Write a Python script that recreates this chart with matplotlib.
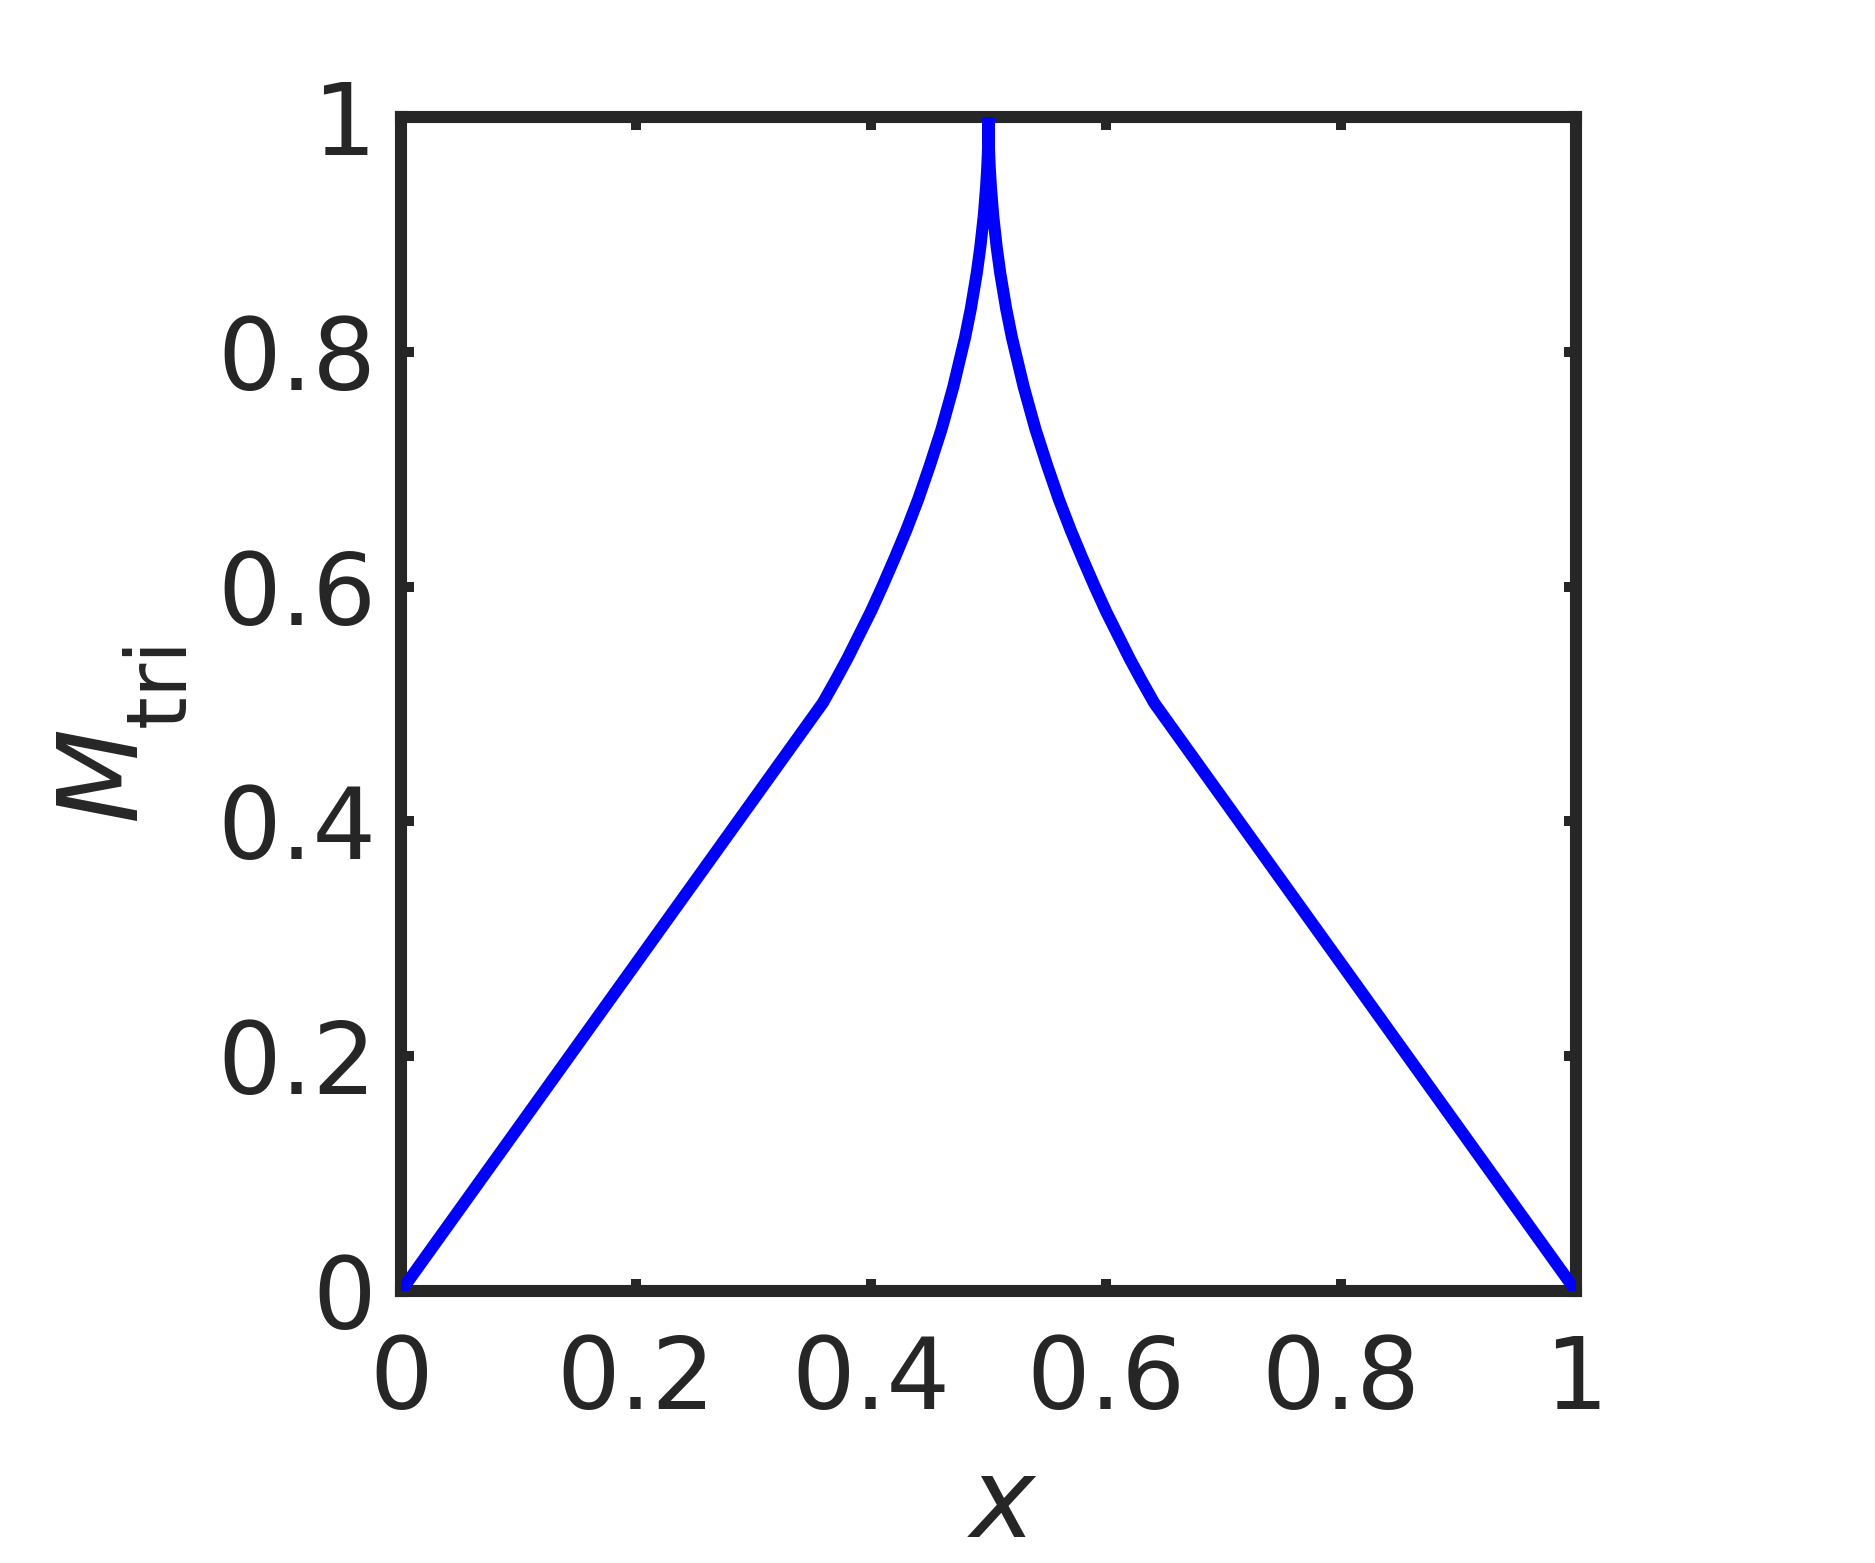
import matplotlib
matplotlib.use("Agg")
import matplotlib.pyplot as plt

# values (left half, peak, right half)
x_vals = [0.0, 0.359, 0.37, 0.38, 0.39, 0.40, 0.41, 0.42, 0.43, 0.44, 0.45,
          0.46, 0.47, 0.48, 0.485, 0.49, 0.493, 0.496, 0.498, 0.499, 0.4996,
          0.4999, 0.5,
          0.5001, 0.5004, 0.501, 0.502, 0.504, 0.507, 0.51, 0.515, 0.52,
          0.53, 0.54, 0.55, 0.56, 0.57, 0.58, 0.59, 0.60, 0.61, 0.62, 0.63,
          0.641, 1.0]
m_tri = [0.0, 0.501, 0.5205, 0.539, 0.559, 0.579, 0.601, 0.624, 0.648,
         0.674, 0.703, 0.734, 0.770, 0.812, 0.837, 0.867, 0.889, 0.916,
         0.941, 0.958, 0.973, 0.987, 1.0,
         0.987, 0.973, 0.958, 0.941, 0.916, 0.889, 0.867, 0.837, 0.812,
         0.770, 0.734, 0.703, 0.674, 0.648, 0.624, 0.601, 0.579, 0.559,
         0.539, 0.5205, 0.501, 0.0]

ticks = [0, 0.2, 0.4, 0.6, 0.8, 1]
tick_labels = ["0", "0.2", "0.4", "0.6", "0.8", "1"]

dark = "#262626"
plt.rcParams["font.family"] = ["DejaVu Sans"]
plt.rcParams["mathtext.fontset"] = "dejavusans"

fig = plt.figure(figsize=(6.25, 5.21), dpi=300)
ax = fig.add_axes([0.2139, 0.174, 0.6266, 0.7511])

ax.plot(x_vals, m_tri, color="blue", lw=2.9, solid_capstyle="round",
        solid_joinstyle="round", zorder=3)

ax.set_xlim(0, 1)
ax.set_ylim(0, 1)
ax.set_xticks(ticks)
ax.set_xticklabels(tick_labels)
ax.set_yticks(ticks)
ax.set_yticklabels(tick_labels)

for s in ax.spines.values():
    s.set_linewidth(2.9)
    s.set_color(dark)

ax.tick_params(direction="in", length=3, width=2.4, color=dark,
               labelcolor=dark, labelsize=24, top=True, right=True)
ax.tick_params(axis="x", pad=10)
ax.tick_params(axis="y", pad=6)

# axis labels
fig.text(0.5349, 0.0361, r"$x$", fontsize=26.5, color=dark,
         ha="center", va="center")
fig.text(0.0576, 0.5029, r"$M$", fontsize=26.5, color=dark, rotation=90,
         ha="center", va="center")
fig.text(0.0870, 0.5601, r"$\mathrm{tri}$", fontsize=20, color=dark,
         rotation=90, ha="center", va="center")

fig.savefig("out.png", dpi=300)
